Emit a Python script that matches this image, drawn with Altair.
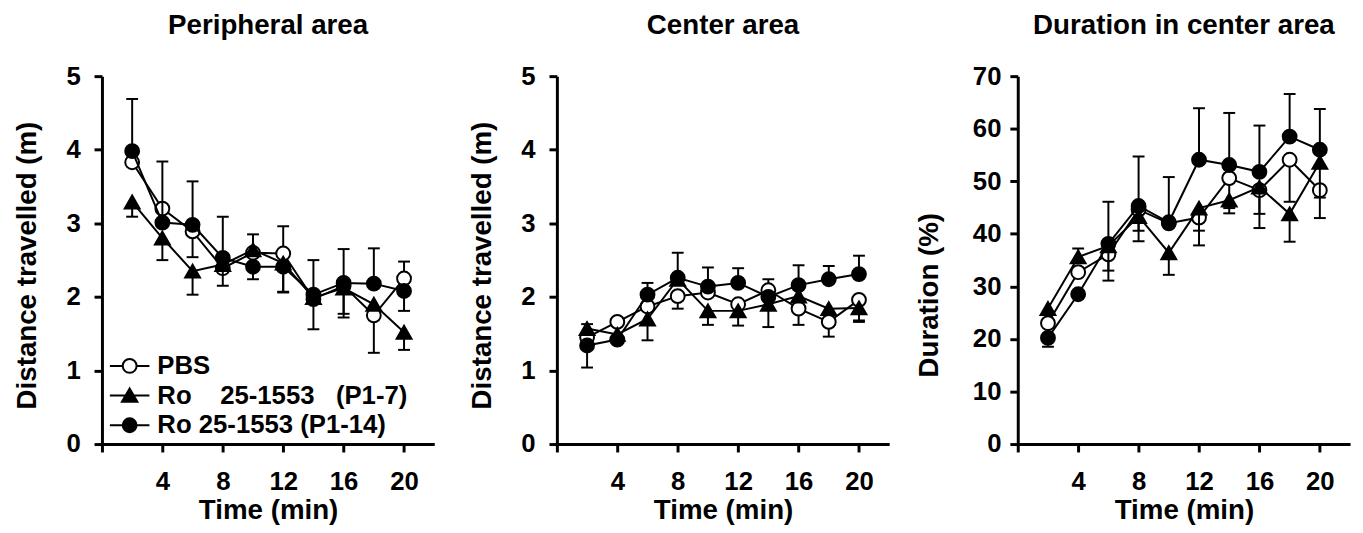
import altair as alt
import pandas as pd

# ---------------- data ----------------
TIME = [2, 4, 6, 8, 10, 12, 14, 16, 18, 20]
NB = "\u00a0"
SERIES = ["PBS", "Ro" + NB * 4 + "25-1553" + NB * 3 + "(P1-7)", "Ro 25-1553 (P1-14)"]

# Peripheral area: distance travelled (m)
p1_pbs = [3.83, 3.20, 2.89, 2.39, 2.60, 2.59, 1.97, 2.15, 1.75, 2.25]
p1_tri = [3.29, 2.80, 2.35, 2.44, 2.64, 2.46, 1.99, 2.12, 1.90, 1.52]
p1_fil = [3.98, 3.01, 2.98, 2.53, 2.41, 2.41, 2.03, 2.19, 2.18, 2.08]
p1_pbs_up = [0, 0, 0, 0, 0, 0.37, 0, 0, 0, 0.23]
p1_pbs_dn = [0, 0, 0.35, 0, 0, 0, 0, 0.38, 0.51, 0]
p1_tri_up = [0, 0, 0, 0, 0.21, 0, 0, 0, 0, 0]
p1_tri_dn = [0.20, 0.30, 0.32, 0.29, 0, 0.39, 0.43, 0.40, 0, 0.24]
p1_fil_up = [0.71, 0.83, 0.59, 0.56, 0, 0, 0.47, 0.46, 0.48, 0]
p1_fil_dn = [0, 0, 0, 0, 0.17, 0.35, 0, 0, 0, 0.27]

# Center area: distance travelled (m)
p2_pbs = [1.45, 1.66, 1.87, 2.01, 2.06, 1.90, 2.09, 1.84, 1.66, 1.96]
p2_tri = [1.57, 1.49, 1.70, 2.24, 1.81, 1.81, 1.90, 2.01, 1.84, 1.85]
p2_fil = [1.34, 1.42, 2.03, 2.26, 2.14, 2.19, 2.00, 2.16, 2.24, 2.31]
p2_pbs_up = [0, 0, 0, 0, 0, 0, 0.15, 0, 0, 0]
p2_pbs_dn = [0, 0, 0, 0.17, 0, 0, 0, 0.22, 0.20, 0.28]
p2_tri_up = [0.06, 0, 0, 0, 0, 0, 0, 0, 0, 0]
p2_tri_dn = [0, 0, 0.29, 0, 0.19, 0.20, 0.31, 0, 0, 0.19]
p2_fil_up = [0, 0, 0.16, 0.34, 0.26, 0.20, 0, 0.27, 0.18, 0.25]
p2_fil_dn = [0.30, 0, 0, 0, 0, 0, 0, 0, 0, 0]

# Duration in center area (%)
p3_pbs = [23.0, 32.7, 36.1, 44.6, 42.0, 43.1, 50.6, 48.3, 54.1, 48.3]
p3_tri = [25.8, 35.6, 37.7, 43.3, 36.4, 44.9, 46.4, 48.9, 43.8, 53.6]
p3_fil = [20.2, 28.5, 38.1, 45.3, 42.2, 54.1, 53.1, 51.8, 58.5, 56.0]
p3_pbs_up = [0, 0, 0, 0, 0, 0, 0, 0, 0, 0]
p3_pbs_dn = [0, 0, 3.1, 4.0, 0, 2.5, 5.7, 4.5, 8.0, 5.3]
p3_tri_up = [0, 1.6, 0, 0, 0, 0, 0, 0, 0, 0]
p3_tri_dn = [0, 0, 6.6, 4.7, 4.2, 7.1, 2.5, 7.8, 5.3, 6.7]
p3_fil_up = [0, 0, 8.0, 9.4, 8.6, 9.8, 9.9, 8.8, 8.1, 7.75]
p3_fil_dn = [1.7, 0, 0, 0, 0, 0, 0, 0, 0, 0]

X_TICKS = [0, 4, 8, 12, 16, 20]

FONT = "Liberation Sans"
STYLE = {
    SERIES[0]: dict(shape="circle", fill="white", size=196),
    SERIES[1]: dict(shape="triangle-up", fill="black", size=225),
    SERIES[2]: dict(shape="circle", fill="black", size=196),
}

# legend symbols: a short line with the marker on it
CIRC = "M-2,0L-0.7,0M0.7,0L2,0M0.7,0A0.7,0.7,0,1,1,-0.7,0A0.7,0.7,0,1,1,0.7,0Z"
TRI = "M-2,0L2,0M0,-0.72L0.78,0.62L-0.78,0.62Z"
LEG_PATHS = [CIRC, TRI, CIRC]


def make_frame(means, ups, dns):
    rows = []
    for s, name in enumerate(SERIES):
        for i, t in enumerate(TIME):
            m = means[s][i]
            rows.append(dict(series=name, time=t, mean=m, up=ups[s][i], dn=dns[s][i],
                             hi=m + ups[s][i], lo=m - dns[s][i]))
    return pd.DataFrame(rows)


def panel(df, title, ytitle, ymax, ystep, lab_pad, ytitle_pad, ytitle_y, legend=False):
    xscale = alt.Scale(domain=[0, 22], nice=False, zero=False)
    yscale = alt.Scale(domain=[0, ymax], nice=False)
    xaxis = alt.Axis(values=X_TICKS, labelExpr="datum.value == 0 ? '' : datum.label",
                     title="Time (min)", titlePadding=2, labelPadding=17)
    yaxis = alt.Axis(values=list(range(0, ymax + 1, ystep)), title=ytitle,
                     titlePadding=ytitle_pad, labelPadding=lab_pad, titleY=ytitle_y)

    def X():
        return alt.X("time:Q", scale=xscale, axis=xaxis)

    layers = []
    for name in SERIES:
        st = STYLE[name]
        base = alt.Chart(df).transform_filter(alt.datum.series == name)
        line = base.mark_line(color="black", strokeWidth=2).encode(
            x=X(), y=alt.Y("mean:Q", scale=yscale, axis=yaxis))
        bar = base.transform_filter("datum.up > 0 || datum.dn > 0").mark_rule(
            color="black", strokeWidth=2).encode(
            x=X(), y=alt.Y("lo:Q", scale=yscale, axis=yaxis), y2="hi:Q")
        cap_hi = base.transform_filter("datum.up > 0").mark_tick(
            orient="horizontal", color="black", size=12, thickness=2, opacity=1).encode(
            x=X(), y=alt.Y("hi:Q", scale=yscale, axis=yaxis))
        cap_lo = base.transform_filter("datum.dn > 0").mark_tick(
            orient="horizontal", color="black", size=12, thickness=2, opacity=1).encode(
            x=X(), y=alt.Y("lo:Q", scale=yscale, axis=yaxis))
        pts = base.mark_point(shape=st["shape"], size=st["size"], filled=True,
                              fill=st["fill"], stroke="black", strokeWidth=2,
                              opacity=1).encode(
            x=X(), y=alt.Y("mean:Q", scale=yscale, axis=yaxis))
        layers += [line, bar, cap_hi, cap_lo, pts]

    if legend:
        leg = alt.Legend(title=None, orient="none", legendX=15, legendY=280,
                         padding=0, labelFont=FONT, labelFontSize=26,
                         labelFontWeight="bold", labelColor="black",
                         symbolSize=400, symbolStrokeColor="black",
                         symbolStrokeWidth=2, symbolOpacity=1,
                         labelOffset=15, rowPadding=4, labelLimit=400)
        legl = alt.Chart(df).mark_point(opacity=0, strokeWidth=2).encode(
            x=X(), y=alt.Y("mean:Q", scale=yscale, axis=yaxis),
            shape=alt.Shape("series:N", scale=alt.Scale(domain=SERIES, range=LEG_PATHS),
                            legend=leg, sort=SERIES),
            fill=alt.Fill("series:N", scale=alt.Scale(domain=SERIES,
                                                      range=["white", "black", "black"]),
                          legend=leg, sort=SERIES),
            stroke=alt.Stroke("series:N", scale=alt.Scale(domain=SERIES,
                                                          range=["black", "black", "black"]),
                              legend=leg, sort=SERIES),
        )
        layers.append(legl)

    return alt.layer(*layers).properties(
        width=336, height=372,
        title=alt.TitleParams(title, fontSize=28, fontWeight="bold", font=FONT,
                              color="black", anchor="middle", frame="group", offset=24),
    )


df1 = make_frame([p1_pbs, p1_tri, p1_fil], [p1_pbs_up, p1_tri_up, p1_fil_up],
                 [p1_pbs_dn, p1_tri_dn, p1_fil_dn])
df2 = make_frame([p2_pbs, p2_tri, p2_fil], [p2_pbs_up, p2_tri_up, p2_fil_up],
                 [p2_pbs_dn, p2_tri_dn, p2_fil_dn])
df3 = make_frame([p3_pbs, p3_tri, p3_fil], [p3_pbs_up, p3_tri_up, p3_fil_up],
                 [p3_pbs_dn, p3_tri_dn, p3_fil_dn])

c1 = panel(df1, "Peripheral area", "Distance travelled (m)", 5, 1, 14, 25, 191, legend=True)
c2 = panel(df2, "Center area", "Distance travelled (m)", 5, 1, 14, 25, 191)
c3 = panel(df3, "Duration in center area", "Duration (%)", 70, 10, 9, 29, 221)

chart = alt.hconcat(alt.hconcat(c1, c2, spacing=34), c3, spacing=27).properties(
    padding={"left": 5, "right": 5, "top": 1, "bottom": 5}
).configure(
    background="white"
).configure_view(stroke=None).configure_axis(
    grid=False, domainColor="black", domainWidth=3, tickColor="black", tickWidth=3,
    tickSize=8, labelFont=FONT, labelFontSize=26, labelFontWeight="bold",
    labelColor="black", titleFont=FONT, titleFontSize=28, titleFontWeight="bold",
    titleColor="black",
)

chart.save("out.html", embed_options={"renderer": "svg", "actions": False})
